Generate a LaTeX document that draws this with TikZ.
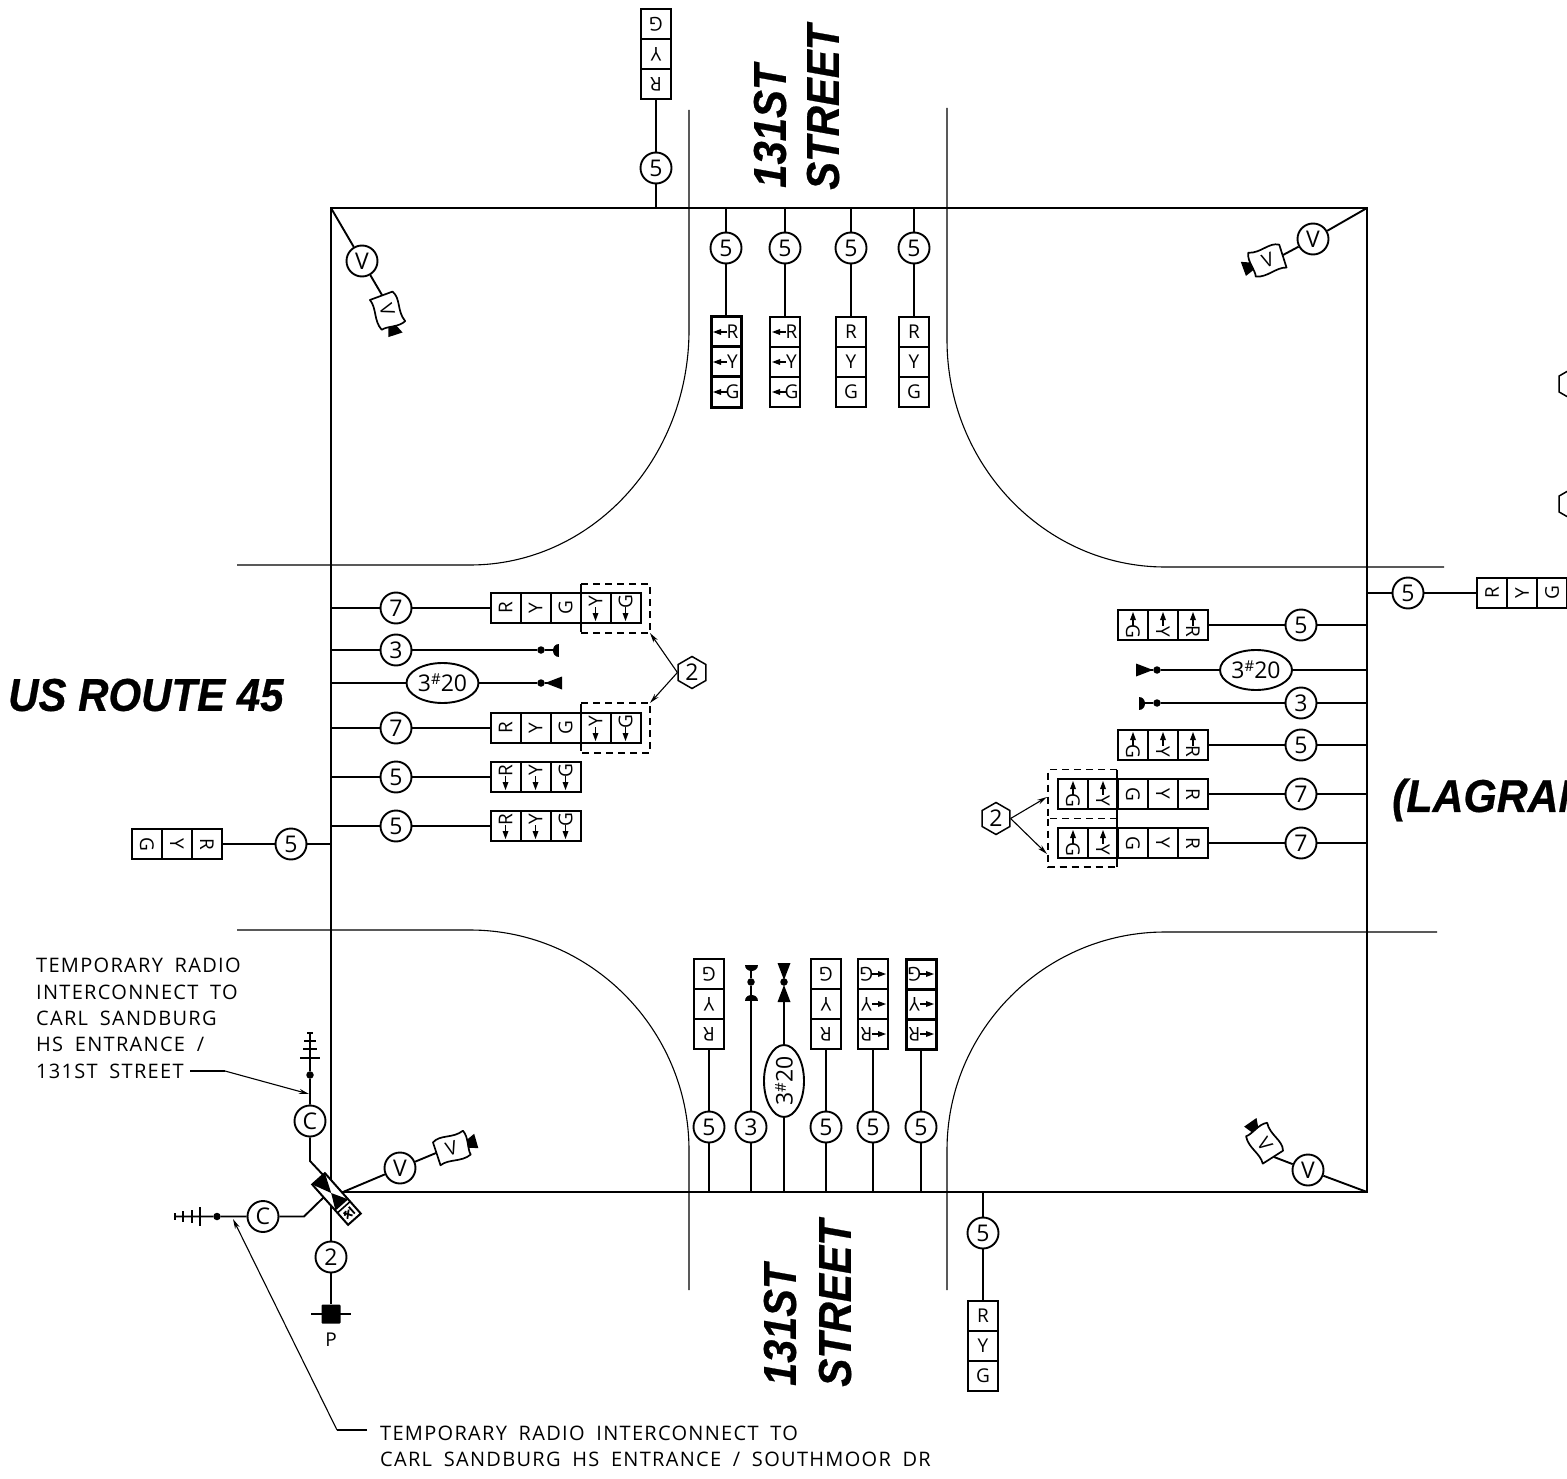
\documentclass[tikz,border=0pt]{standalone}
\usepackage{fontspec}
\setmainfont{Liberation Sans}
\newfontfamily\cad{Open Sans}
\newfontfamily\notefont[LetterSpace=6.5,WordSpace=1.8]{Open Sans}
\usetikzlibrary{arrows.meta,shapes.geometric}
\tikzset{
  wire/.style={line width=1.9pt,line join=round},
  road/.style={line width=1.1pt},
  lead/.style={line width=1.1pt,-{Stealth[length=10pt,width=5pt]}},
  leadn/.style={line width=1.1pt},
  rim/.style={line width=2.1pt,line join=miter},
  circ/.style={circle,draw,fill=white,line width=1.9pt,minimum size=31pt,inner sep=0pt,font=\cad\fontsize{23}{23}\selectfont},
  oval/.style={ellipse,draw,fill=white,line width=1.9pt,minimum width=72pt,minimum height=40pt,inner sep=0pt,font=\cad\fontsize{23}{23}\selectfont},
  hexa/.style={regular polygon,regular polygon sides=6,shape border rotate=30,draw,fill=white,line width=1.5pt,minimum size=32pt,inner sep=0pt,font=\cad\fontsize{23}{23}\selectfont},
  headbox/.style={rectangle,draw,fill=white,inner sep=0pt,outer sep=0pt,minimum width=30pt,line width=2pt},
  cell/.style={inner sep=0pt,font=\cad\fontsize{19}{19}\selectfont},
  dotn/.style={circle,fill=black,inner sep=0pt,minimum size=7.5pt},
  dashbox/.style={line width=1.2pt,dash pattern=on 7pt off 5pt},
  note/.style={anchor=west,inner sep=0pt,font=\notefont\fontsize{20}{22}\selectfont},
  big/.style={inner sep=0pt,font=\bfseries\itshape\addfontfeature{FakeBold=0.6}\fontsize{46}{46}\selectfont}
}
% #1 name, #2 R-end point, #3 rotation, #4 cells, #5 list letter/arrow, #6 line width
\newcommand{\sighead}[6]{%
  \pgfmathsetlengthmacro{\hlen}{#4*30}%
  \node[headbox,line width=#6,rotate=#3,anchor=north,minimum height=\hlen] (#1) at #2 {};
  \begin{scope}[shift={#2},rotate=#3]
    \foreach \lt/\ar [count=\k from 0] in {#5}{
      \pgfmathsetmacro{\yy}{(\k+0.5)*30}
      \ifnum\k>0 \draw[line width=#6] (-15,\k*30) -- (15,\k*30);\fi
      \ifnum\ar=1
        \node[cell,rotate=#3] at (6.5,\yy) {\lt};
        \draw[line width=1.7pt] (-8,\yy) -- (1,\yy);
        \fill (-13,\yy) -- (-5,\yy-3) -- (-5,\yy+3) -- cycle;
      \else
        \node[cell,rotate=#3] at (0,\yy) {\lt};
      \fi
    }
  \end{scope}
}
% camera: #1 attach point, #2 rot, #3 mirror, name at attach
\newcommand{\camera}[4]{%
  \coordinate (#1) at #2;
  \begin{scope}[shift={#2},rotate=#3,xscale=#4]
    \draw[wire,fill=white,line width=1.7pt] (0,-11) .. controls (9,-17) and (20,-9) .. (32,-14)
      .. controls (36,-6) and (31,5) .. (33,11) .. controls (22,16) and (11,9) .. (1,13) -- cycle;
    \fill (33,-4) -- (42,-8) -- (42,7) -- (33,4) -- cycle;
    \node[cell,rotate=#3] at (16,0) {V};
  \end{scope}
}
\newcommand{\halfd}[2]{\begin{scope}[shift={#1},rotate=#2]\fill (0,-6.5) .. controls (-8,-6.5) and (-8,6.5) .. (0,6.5) -- cycle;\end{scope}}
\newcommand{\trid}[2]{\begin{scope}[shift={#1},rotate=#2]\fill (0,0) -- (17,-6.5) -- (17,6.5) -- cycle;\end{scope}}
\begin{document}
\begin{tikzpicture}[x=1pt,y=-1pt]
\path[use as bounding box] (0,0) rectangle (1567,1479);
\clip (0,0) rectangle (1567,1479);
\fill[white] (0,0) rectangle (1567,1479);

% roads
\draw[road] (689,110) -- (689,330) .. controls (689,460) and (591,565) .. (470,565) -- (237,565);
\draw[road] (947,108) -- (947,340) .. controls (947,465) and (1045,567) .. (1165,567) -- (1444,567);
\draw[road] (237,930) -- (470,930) .. controls (591,930) and (689,1030) .. (689,1150) -- (689,1290);
\draw[road] (1437,932) -- (1165,932) .. controls (1045,932) and (947,1030) .. (947,1150) -- (947,1290);

% main rectangle
\coordinate (NW) at (331,208); \coordinate (NE) at (1367,208);
\coordinate (SE) at (1367,1192); \coordinate (SW) at (331,1192);
\draw[rim] (NW) -- (NE) -- (SE) -- (SW) -- cycle;

% top side
\node[circ] (ct0) at (656,168) {5};
\node[circ] (ct1) at (726,248) {5};
\node[circ] (ct2) at (785,248) {5};
\node[circ] (ct3) at (851,248) {5};
\node[circ] (ct4) at (914,248) {5};
\sighead{ht0}{(656,99)}{180}{3}{R/0,Y/0,G/0}{2pt}
\sighead{ht1}{(726,317)}{0}{3}{R/1,Y/1,G/1}{3pt}
\sighead{ht2}{(785,317)}{0}{3}{R/1,Y/1,G/1}{2pt}
\sighead{ht3}{(851,317)}{0}{3}{R/0,Y/0,G/0}{2pt}
\sighead{ht4}{(914,317)}{0}{3}{R/0,Y/0,G/0}{2pt}
\coordinate (pt0) at (656,208); \coordinate (pt1) at (726,208); \coordinate (pt2) at (785,208);
\coordinate (pt3) at (851,208); \coordinate (pt4) at (914,208);
\draw[wire] (pt0) -- (ct0) -- (ht0.north);
\draw[wire] (pt1) -- (ct1) -- (ht1.north);
\draw[wire] (pt2) -- (ct2) -- (ht2.north);
\draw[wire] (pt3) -- (ct3) -- (ht3.north);
\draw[wire] (pt4) -- (ct4) -- (ht4.north);

% bottom side
\node[circ] (cb1) at (709,1127) {5};
\node[circ] (cb2) at (751,1127) {3};
\node[oval,rotate=90] (cb3) at (784,1081) {3\raisebox{.3em}{\fontsize{15}{15}\selectfont\#}20};
\node[circ] (cb4) at (826,1127) {5};
\node[circ] (cb5) at (873,1127) {5};
\node[circ] (cb6) at (921,1127) {5};
\node[circ] (cb7) at (983,1233) {5};
\sighead{hb1}{(709,1049)}{180}{3}{R/0,Y/0,G/0}{2pt}
\sighead{hb4}{(826,1049)}{180}{3}{R/0,Y/0,G/0}{2pt}
\sighead{hb5}{(873,1049)}{180}{3}{R/1,Y/1,G/1}{2pt}
\sighead{hb6}{(921,1049)}{180}{3}{R/1,Y/1,G/1}{3pt}
\sighead{hb7}{(983,1301)}{0}{3}{R/0,Y/0,G/0}{2pt}
\coordinate (pb1) at (709,1192); \coordinate (pb2) at (751,1192); \coordinate (pb3) at (784,1192);
\coordinate (pb4) at (826,1192); \coordinate (pb5) at (873,1192); \coordinate (pb6) at (921,1192);
\coordinate (pb7) at (983,1192);
\node[dotn] (db2) at (751,982) {};
\node[dotn] (db3) at (784,982) {};
\coordinate (eb2) at (751,996); \coordinate (eb3) at (784,990); \coordinate (eb2t) at (751,970); \coordinate (eb3t) at (784,975);
\draw[wire] (pb1) -- (cb1) -- (hb1.north);
\draw[wire] (pb2) -- (cb2) -- (eb2);
\draw[wire] (eb2) -- (db2) -- (eb2t);
\draw[wire] (pb3) -- (cb3) -- (eb3);
\draw[wire] (pb4) -- (cb4) -- (hb4.north);
\draw[wire] (pb5) -- (cb5) -- (hb5.north);
\draw[wire] (pb6) -- (cb6) -- (hb6.north);
\draw[wire] (pb7) -- (cb7) -- (hb7.north);
\halfd{(751,965)}{90}
\halfd{(751,1001)}{-90}
\trid{(784,980)}{90}
\trid{(784,985)}{-90}

% left side
\node[circ] (cl1) at (396,608) {7};
\node[circ] (cl2) at (396,650) {3};
\node[oval] (cl3) at (442.5,683) {3\raisebox{.3em}{\fontsize{15}{15}\selectfont\#}20};
\node[circ] (cl4) at (396,728) {7};
\node[circ] (cl5) at (396,777) {5};
\node[circ] (cl6) at (396,826) {5};
\node[circ] (cl7) at (291,844) {5};
\sighead{hl1}{(490.5,608)}{90}{5}{R/0,Y/0,G/0,Y/1,G/1}{2pt}
\sighead{hl4}{(490.5,728)}{90}{5}{R/0,Y/0,G/0,Y/1,G/1}{2pt}
\sighead{hl5}{(490.5,777)}{90}{3}{R/1,Y/1,G/1}{2pt}
\sighead{hl6}{(490.5,826)}{90}{3}{R/1,Y/1,G/1}{2pt}
\sighead{hl7}{(222,844)}{-90}{3}{R/0,Y/0,G/0}{2pt}
\coordinate (pl1) at (331,608); \coordinate (pl2) at (331,650); \coordinate (pl3) at (331,683);
\coordinate (pl4) at (331,728); \coordinate (pl5) at (331,777); \coordinate (pl6) at (331,826);
\coordinate (pl7) at (331,844);
\node[dotn] (dl2) at (541,650) {};
\node[dotn] (dl3) at (541,683) {};
\coordinate (el2) at (554,650); \coordinate (el3) at (548,683);
\draw[wire] (pl1) -- (cl1) -- (hl1.north);
\draw[wire] (pl2) -- (cl2) -- (dl2) -- (el2);
\draw[wire] (pl3) -- (cl3) -- (dl3) -- (el3);
\draw[wire] (pl4) -- (cl4) -- (hl4.north);
\draw[wire] (pl5) -- (cl5) -- (hl5.north);
\draw[wire] (pl6) -- (cl6) -- (hl6.north);
\draw[wire] (pl7) -- (cl7) -- (hl7.north);
\halfd{(559,650)}{0}
\trid{(545,683)}{0}
% dashed boxes left
\draw[dashbox] (581,584) -- (650,584) -- (650,633) -- (581,633);
\draw[dashbox] (581,703) -- (650,703) -- (650,753) -- (581,753);
\draw[line width=1.2pt] (581,584) -- (581,632);
\draw[line width=1.2pt] (581,704) -- (581,751);
\node[hexa] (hxl) at (692,672.5) {2};
\coordinate (tl1) at (650,633); \coordinate (tl2) at (650,703);
\draw[lead] (hxl.west) -- (tl1);
\draw[lead] (hxl.west) -- (tl2);

% right side
\node[circ] (cr1) at (1301,625) {5};
\node[oval] (cr2) at (1256,670) {3\raisebox{.3em}{\fontsize{15}{15}\selectfont\#}20};
\node[circ] (cr3) at (1301,703) {3};
\node[circ] (cr4) at (1301,745) {5};
\node[circ] (cr5) at (1301,794) {7};
\node[circ] (cr6) at (1301,843) {7};
\node[circ] (cr7) at (1408,593) {5};
\sighead{hr1}{(1208,625)}{-90}{3}{R/1,Y/1,G/1}{2pt}
\sighead{hr4}{(1208,745)}{-90}{3}{R/1,Y/1,G/1}{2pt}
\sighead{hr5}{(1208,794)}{-90}{5}{R/0,Y/0,G/0,Y/1,G/1}{2pt}
\sighead{hr6}{(1208,843)}{-90}{5}{R/0,Y/0,G/0,Y/1,G/1}{2pt}
\sighead{hr7}{(1477,593)}{90}{3}{R/0,Y/0,G/0}{2pt}
\coordinate (pr1) at (1367,625); \coordinate (pr2) at (1367,670); \coordinate (pr3) at (1367,703);
\coordinate (pr4) at (1367,745); \coordinate (pr5) at (1367,794); \coordinate (pr6) at (1367,843);
\coordinate (pr7) at (1367,593);
\node[dotn] (dr2) at (1157,670) {};
\node[dotn] (dr3) at (1157,703) {};
\coordinate (er2) at (1150,670); \coordinate (er3) at (1144,703);
\draw[wire] (pr1) -- (cr1) -- (hr1.north);
\draw[wire] (pr2) -- (cr2) -- (dr2) -- (er2);
\draw[wire] (pr3) -- (cr3) -- (dr3) -- (er3);
\draw[wire] (pr4) -- (cr4) -- (hr4.north);
\draw[wire] (pr5) -- (cr5) -- (hr5.north);
\draw[wire] (pr6) -- (cr6) -- (hr6.north);
\draw[wire] (pr7) -- (cr7) -- (hr7.north);
\halfd{(1139,703)}{180}
\trid{(1153,670)}{180}
% dashed boxes right
\draw[dashbox] (1117,769.5) -- (1048,769.5) -- (1048,818.5) -- (1117,818.5);
\draw[dashbox] (1048,818.5) -- (1048,867) -- (1117,867);
\draw[line width=1.2pt] (1117,770) -- (1117,867);
\node[hexa] (hxr) at (996,818.5) {2};
\coordinate (tr1) at (1047,797); \coordinate (tr2) at (1047,854);
\draw[lead] (hxr.east) -- (tr1);
\draw[lead] (hxr.east) -- (tr2);
% hexagons cut by the page edge
\node[hexa] (hxe1) at (1573,384) {};
\node[hexa] (hxe2) at (1573,504) {};

% cameras
\node[circ] (vtl) at (362,261) {V};
\node[circ] (vtr) at (1313,239) {V};
\node[circ] (vbl) at (400,1168) {V};
\node[circ] (vbr) at (1308,1170) {V};
\camera{camtl}{(382,295)}{-72}{1}
\camera{camtr}{(1283,255)}{20}{-1}
\camera{cambl}{(436,1153)}{16}{1}
\camera{cambr}{(1274,1157)}{-55}{-1}
\coordinate (vs) at (343,1192);
\draw[wire] (NW) -- (vtl) -- (camtl);
\draw[wire] (NE) -- (vtr) -- (camtr);
\draw[wire] (SE) -- (vbr) -- (cambr);
\draw[wire] (vs) -- (vbl) -- (cambl);

% pole
\node[circ] (cp) at (331,1257) {2};
\node[rectangle,fill=black,minimum size=19pt,inner sep=0pt,rounded corners=1pt] (pbox) at (331,1314) {};
\coordinate (pk1) at (311,1314); \coordinate (pk2) at (351,1314);
\draw[line width=1.2pt] (pk1) -- (pk2);
\draw[wire] (SW) -- (cp) -- (pbox);
\node[cell] (plab) at (331,1340) {P};

% radio
\node[circ] (cu) at (310,1121) {C};
\node[circ] (cl) at (263,1216.5) {C};
\node[dotn] (du) at (310,1075) {};
\node[dotn] (dl) at (217,1216.5) {};
\coordinate (bu) at (310,1161); \coordinate (bl) at (304,1216.5);
\coordinate (ctrlu) at (325,1177); \coordinate (ctrll) at (325,1196);
\coordinate (au) at (310,1033); \coordinate (al) at (175,1216.5);
\draw[wire] (al) -- (dl) -- (cl) -- (bl) -- (ctrll);
\draw[wire] (au) -- (du) -- (cu) -- (bu) -- (ctrlu);
\draw[wire] (300,1058) -- (320,1058) (303,1049) -- (317,1049) (304,1041) -- (316,1041) (307,1033) -- (313,1033);
\draw[wire] (200,1207) -- (200,1226) (192,1210) -- (192,1223) (183,1211) -- (183,1222) (175,1213) -- (175,1220);

% controller
\node[rectangle,draw,fill=white,rotate=-48.4,minimum width=54pt,minimum height=17pt,inner sep=0pt,line width=2pt] (ctrl) at (336.5,1199) {};
\begin{scope}[shift={(336.5,1199)},rotate=-48.4]
  \fill (-27,-8.5) -- (-27,8.5) -- (-8,0) -- (8,8.5) -- (8,-8.5) -- (-8,0) -- cycle;
  \draw[line width=1.6pt] (11,-8.5) -- (11,8.5);
  \draw[line width=1.8pt] (14,-4) -- (23,-4) (15,4) -- (23,-1) (16,-2) -- (22,5) (15,1) -- (18,5);
\end{scope}

% leaders
\coordinate (lu0) at (190,1071); \coordinate (lu1) at (225,1071); \coordinate (lu2) at (309,1094);
\coordinate (ll0) at (367,1430); \coordinate (ll1) at (337,1430); \coordinate (ll2) at (233,1219);
\draw[leadn] (lu0) -- (lu1);
\draw[lead] (lu1) -- (lu2);
\draw[leadn] (ll0) -- (ll1);
\draw[lead] (ll1) -- (ll2);

% notes
\node[note] (n1) at (36,965.5) {TEMPORARY RADIO};
\node[note] (n2) at (36,992) {INTERCONNECT TO};
\node[note] (n3) at (36,1018) {CARL SANDBURG};
\node[note] (n4) at (36,1044.5) {HS ENTRANCE /};
\node[note] (n5) at (36,1071) {131ST STREET};
\node[note] (n6) at (380,1433) {TEMPORARY RADIO INTERCONNECT TO};
\node[note] (n7) at (380,1459.5) {CARL SANDBURG HS ENTRANCE / SOUTHMOOR DR};

% street names
\node[big,anchor=west] (s1) at (8,695) {\scalebox{0.913}[1]{US ROUTE 45}};
\node[big,anchor=west] (s2) at (1392,800) {\scalebox{0.93}[1]{(LAGRAN}};
\node[big,anchor=west,rotate=90] (s3) at (770,188) {\scalebox{0.91}[1]{131ST}};
\node[big,anchor=west,rotate=90] (s4) at (823,190) {\scalebox{0.91}[1]{STREET}};
\node[big,anchor=west,rotate=90] (s5) at (780,1386) {\scalebox{0.9}[1]{131ST}};
\node[big,anchor=west,rotate=90] (s6) at (835,1387) {\scalebox{0.92}[1]{STREET}};
\end{tikzpicture}
\end{document}
